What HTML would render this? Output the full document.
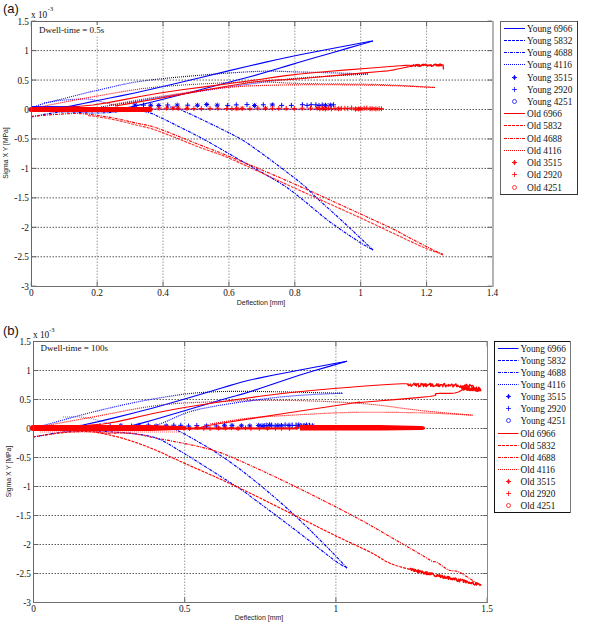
<!DOCTYPE html><html><head><meta charset="utf-8"><style>html,body{margin:0;padding:0;background:#fff;width:600px;height:626px;overflow:hidden}svg{display:block}.tk{font-family:"Liberation Serif",serif;font-size:9.3px;fill:#111}.lg{font-family:"Liberation Serif",serif;font-size:9.3px;fill:#111}.sl{font-family:"Liberation Sans",sans-serif;font-size:7px;fill:#222}.lt{font-family:"Liberation Sans",sans-serif;font-size:13px;fill:#111}</style></head><body>
<svg width="600" height="626" viewBox="0 0 600 626">
<line x1="97.18" y1="21.5" x2="97.18" y2="286.5" stroke="#999" stroke-dasharray="1.5 1.5"/>
<line x1="163.06" y1="21.5" x2="163.06" y2="286.5" stroke="#999" stroke-dasharray="1.5 1.5"/>
<line x1="228.94" y1="21.5" x2="228.94" y2="286.5" stroke="#999" stroke-dasharray="1.5 1.5"/>
<line x1="294.82" y1="21.5" x2="294.82" y2="286.5" stroke="#999" stroke-dasharray="1.5 1.5"/>
<line x1="360.70" y1="21.5" x2="360.70" y2="286.5" stroke="#999" stroke-dasharray="1.5 1.5"/>
<line x1="426.58" y1="21.5" x2="426.58" y2="286.5" stroke="#999" stroke-dasharray="1.5 1.5"/>
<line x1="31.5" y1="50.60" x2="492.5" y2="50.60" stroke="#5a5a5a" stroke-dasharray="1.5 1.5"/>
<line x1="31.5" y1="80.05" x2="492.5" y2="80.05" stroke="#5a5a5a" stroke-dasharray="1.5 1.5"/>
<line x1="31.5" y1="109.50" x2="492.5" y2="109.50" stroke="#5a5a5a" stroke-dasharray="1.5 1.5"/>
<line x1="31.5" y1="138.95" x2="492.5" y2="138.95" stroke="#5a5a5a" stroke-dasharray="1.5 1.5"/>
<line x1="31.5" y1="168.40" x2="492.5" y2="168.40" stroke="#5a5a5a" stroke-dasharray="1.5 1.5"/>
<line x1="31.5" y1="197.85" x2="492.5" y2="197.85" stroke="#5a5a5a" stroke-dasharray="1.5 1.5"/>
<line x1="31.5" y1="227.30" x2="492.5" y2="227.30" stroke="#5a5a5a" stroke-dasharray="1.5 1.5"/>
<line x1="31.5" y1="256.75" x2="492.5" y2="256.75" stroke="#5a5a5a" stroke-dasharray="1.5 1.5"/>
<line x1="31.30" y1="286.5" x2="31.30" y2="281.5" stroke="#666"/>
<line x1="31.30" y1="21.5" x2="31.30" y2="26.5" stroke="#666"/>
<text x="31.30" y="296.0" class="tk" text-anchor="middle">0</text>
<line x1="97.18" y1="286.5" x2="97.18" y2="281.5" stroke="#666"/>
<line x1="97.18" y1="21.5" x2="97.18" y2="26.5" stroke="#666"/>
<text x="97.18" y="296.0" class="tk" text-anchor="middle">0.2</text>
<line x1="163.06" y1="286.5" x2="163.06" y2="281.5" stroke="#666"/>
<line x1="163.06" y1="21.5" x2="163.06" y2="26.5" stroke="#666"/>
<text x="163.06" y="296.0" class="tk" text-anchor="middle">0.4</text>
<line x1="228.94" y1="286.5" x2="228.94" y2="281.5" stroke="#666"/>
<line x1="228.94" y1="21.5" x2="228.94" y2="26.5" stroke="#666"/>
<text x="228.94" y="296.0" class="tk" text-anchor="middle">0.6</text>
<line x1="294.82" y1="286.5" x2="294.82" y2="281.5" stroke="#666"/>
<line x1="294.82" y1="21.5" x2="294.82" y2="26.5" stroke="#666"/>
<text x="294.82" y="296.0" class="tk" text-anchor="middle">0.8</text>
<line x1="360.70" y1="286.5" x2="360.70" y2="281.5" stroke="#666"/>
<line x1="360.70" y1="21.5" x2="360.70" y2="26.5" stroke="#666"/>
<text x="360.70" y="296.0" class="tk" text-anchor="middle">1</text>
<line x1="426.58" y1="286.5" x2="426.58" y2="281.5" stroke="#666"/>
<line x1="426.58" y1="21.5" x2="426.58" y2="26.5" stroke="#666"/>
<text x="426.58" y="296.0" class="tk" text-anchor="middle">1.2</text>
<line x1="492.46" y1="286.5" x2="492.46" y2="281.5" stroke="#666"/>
<line x1="492.46" y1="21.5" x2="492.46" y2="26.5" stroke="#666"/>
<text x="492.46" y="296.0" class="tk" text-anchor="middle">1.4</text>
<line x1="31.5" y1="21.15" x2="36.5" y2="21.15" stroke="#666"/>
<line x1="492.5" y1="21.15" x2="487.5" y2="21.15" stroke="#666"/>
<text x="29.0" y="24.65" class="tk" text-anchor="end">1.5</text>
<line x1="31.5" y1="50.60" x2="36.5" y2="50.60" stroke="#666"/>
<line x1="492.5" y1="50.60" x2="487.5" y2="50.60" stroke="#666"/>
<text x="29.0" y="54.10" class="tk" text-anchor="end">1</text>
<line x1="31.5" y1="80.05" x2="36.5" y2="80.05" stroke="#666"/>
<line x1="492.5" y1="80.05" x2="487.5" y2="80.05" stroke="#666"/>
<text x="29.0" y="83.55" class="tk" text-anchor="end">0.5</text>
<line x1="31.5" y1="109.50" x2="36.5" y2="109.50" stroke="#666"/>
<line x1="492.5" y1="109.50" x2="487.5" y2="109.50" stroke="#666"/>
<text x="29.0" y="113.00" class="tk" text-anchor="end">0</text>
<line x1="31.5" y1="138.95" x2="36.5" y2="138.95" stroke="#666"/>
<line x1="492.5" y1="138.95" x2="487.5" y2="138.95" stroke="#666"/>
<text x="29.0" y="142.45" class="tk" text-anchor="end">-0.5</text>
<line x1="31.5" y1="168.40" x2="36.5" y2="168.40" stroke="#666"/>
<line x1="492.5" y1="168.40" x2="487.5" y2="168.40" stroke="#666"/>
<text x="29.0" y="171.90" class="tk" text-anchor="end">-1</text>
<line x1="31.5" y1="197.85" x2="36.5" y2="197.85" stroke="#666"/>
<line x1="492.5" y1="197.85" x2="487.5" y2="197.85" stroke="#666"/>
<text x="29.0" y="201.35" class="tk" text-anchor="end">-1.5</text>
<line x1="31.5" y1="227.30" x2="36.5" y2="227.30" stroke="#666"/>
<line x1="492.5" y1="227.30" x2="487.5" y2="227.30" stroke="#666"/>
<text x="29.0" y="230.80" class="tk" text-anchor="end">-2</text>
<line x1="31.5" y1="256.75" x2="36.5" y2="256.75" stroke="#666"/>
<line x1="492.5" y1="256.75" x2="487.5" y2="256.75" stroke="#666"/>
<text x="29.0" y="260.25" class="tk" text-anchor="end">-2.5</text>
<line x1="31.5" y1="286.20" x2="36.5" y2="286.20" stroke="#666"/>
<line x1="492.5" y1="286.20" x2="487.5" y2="286.20" stroke="#666"/>
<text x="29.0" y="289.70" class="tk" text-anchor="end">-3</text>
<polyline points="31.0,109.5 35.5,109.4 42.0,109.2 49.0,108.9 55.0,108.5 59.3,108.1 62.7,107.6 66.3,106.9 71.0,106.0 76.8,104.9 83.4,103.5 91.0,101.9 100.0,100.0 109.9,98.0 120.6,95.9 133.5,93.2 150.0,89.5 172.7,84.2 200.0,77.7 227.3,71.1 250.0,65.8 265.8,62.1 277.5,59.5 288.0,57.2 300.0,54.7 315.4,51.7 332.3,48.5 348.1,45.5 360.0,43.3 366.9,42.0 370.2,41.4 371.8,41.2 373.0,41.0" fill="none" stroke="#0000ff" stroke-width="1.15" stroke-linejoin="round"/>
<polyline points="373.0,41.0 371.8,41.3 370.2,41.8 366.9,42.7 360.0,44.7 348.1,48.1 332.3,52.7 315.4,57.5 300.0,62.0 288.0,65.6 277.5,68.8 265.8,72.3 250.0,76.7 226.8,82.8 198.4,90.2 170.9,97.2 150.0,102.5 137.9,105.4 131.2,106.9 127.7,107.5 125.0,108.0" fill="none" stroke="#0000ff" stroke-width="1.15" stroke-linejoin="round"/>
<polyline points="31.0,117.0 36.4,116.0 44.2,114.4 52.9,112.9 61.0,112.0 68.5,111.9 76.1,112.2 83.4,112.7 90.0,113.0 95.5,113.0 100.2,113.0 104.9,112.8 110.0,112.5 116.1,111.9 122.8,111.0 129.3,110.3 135.0,110.0 139.6,110.3 143.4,111.1 146.8,112.0 150.0,113.0 152.1,113.6 153.4,114.1 155.5,115.1 160.0,117.3 167.9,121.1 178.1,126.2 189.3,131.7 200.0,137.3 210.0,142.8 220.0,148.5 230.0,154.2 240.0,160.0 250.5,165.9 261.2,172.0 271.4,177.8 280.0,183.0 286.2,187.0 290.6,190.2 294.8,193.4 300.0,197.5 306.8,203.0 314.4,209.4 322.3,216.0 330.0,222.0 337.7,227.6 345.7,233.0 353.1,237.9 359.3,242.0 364.1,245.0 368.0,247.2 370.9,248.8 373.0,250.0" fill="none" stroke="#0000ff" stroke-width="1.15" stroke-dasharray="3 1 1 1" stroke-linejoin="round"/>
<polyline points="373.0,250.0 367.6,244.9 359.8,237.5 351.2,229.4 343.3,222.0 336.2,215.5 329.2,209.2 322.6,203.3 316.7,198.0 312.5,193.9 309.6,190.8 306.1,187.4 300.0,182.3 289.9,174.4 277.1,164.7 264.0,155.0 253.3,147.3 246.4,142.5 241.8,139.6 237.1,137.0 230.0,133.3 218.8,127.7 205.0,121.0 191.5,114.6 181.0,110.0 174.3,107.8 169.9,107.0 167.1,107.1 165.0,107.0" fill="none" stroke="#0000ff" stroke-width="1.15" stroke-dasharray="3 1 1 1" stroke-linejoin="round"/>
<polyline points="31.0,109.0 32.1,108.3 33.7,107.3 35.9,106.2 39.0,105.0 42.9,103.8 47.5,102.6 53.1,101.2 60.0,99.5 68.4,97.4 78.2,94.9 88.9,92.2 100.0,89.7 110.6,87.2 121.2,84.8 133.8,82.3 150.0,80.0 172.7,77.6 200.0,75.2 227.3,73.1 250.0,71.7 265.6,71.1 277.0,71.2 287.4,71.6 300.0,72.0 317.3,72.4 337.1,73.0 355.4,73.6 368.0,74.0" fill="none" stroke="#0000ff" stroke-width="1.15" stroke-dasharray="1 1" stroke-linejoin="round"/>
<polyline points="368.0,74.0 355.4,74.7 337.1,75.6 317.3,76.8 300.0,78.0 286.8,79.2 275.4,80.6 263.8,82.1 250.0,84.0 232.5,86.4 212.8,89.3 192.9,92.3 175.0,95.0 159.0,97.5 144.1,100.0 130.8,102.2 120.0,104.0 112.1,105.2 106.6,106.1 102.8,106.6 100.0,107.0" fill="none" stroke="#0000ff" stroke-width="1.15" stroke-dasharray="1 1" stroke-linejoin="round"/>
<polyline points="44.0,103.0 46.7,102.5 50.6,101.8 55.2,101.1 60.0,100.5 65.3,100.0 71.2,99.5 77.1,99.2 82.0,99.0 85.4,99.0 87.9,99.0 90.4,99.3 94.0,100.0 99.7,101.3 106.8,103.1 113.4,104.8 118.0,106.0" fill="none" stroke="#0000ff" stroke-width="1.1" stroke-dasharray="1 1" stroke-opacity="0.9" stroke-linejoin="round"/>
<polyline points="31.0,106.6 80.0,106.6" fill="none" stroke="#0000ff" stroke-width="1" stroke-linejoin="round"/>
<polyline points="150.0,109.3 338.0,109.3" fill="none" stroke="#0000ff" stroke-width="0.8" stroke-opacity="0.6" stroke-linejoin="round"/>
<path d="M132.5,105.0H137.5M135.0,102.5V107.5M133.2,103.3L136.8,106.8M133.2,106.8L136.8,103.3" stroke="#0000ff" stroke-width="1" fill="none"/>
<path d="M141.0,105.1H146.0M143.5,102.6V107.6" stroke="#0000ff" stroke-width="1" fill="none"/>
<path d="M148.2,105.3H153.2M150.7,102.8V107.8M149.0,103.6L152.5,107.1M149.0,107.1L152.5,103.6" stroke="#0000ff" stroke-width="1" fill="none"/>
<path d="M156.3,105.5H161.3M158.8,103.0V108.0M157.0,103.7L160.5,107.2M157.0,107.2L160.5,103.7" stroke="#0000ff" stroke-width="1" fill="none"/>
<path d="M165.2,105.0H170.2M167.7,102.5V107.5" stroke="#0000ff" stroke-width="1" fill="none"/>
<path d="M174.7,105.1H179.7M177.2,102.6V107.6M175.5,103.4L179.0,106.9M175.5,106.9L179.0,103.4" stroke="#0000ff" stroke-width="1" fill="none"/>
<path d="M185.2,105.2H190.2M187.7,102.7V107.7" stroke="#0000ff" stroke-width="1" fill="none"/>
<path d="M194.9,105.3H199.9M197.4,102.8V107.8M195.6,103.5L199.1,107.0M195.6,107.0L199.1,103.5" stroke="#0000ff" stroke-width="1" fill="none"/>
<path d="M204.2,104.5H209.2M206.7,102.0V107.0M205.0,102.8L208.5,106.3M205.0,106.3L208.5,102.8" stroke="#0000ff" stroke-width="1" fill="none"/>
<path d="M214.7,105.2H219.7M217.2,102.7V107.7M215.5,103.5L219.0,107.0M215.5,107.0L219.0,103.5" stroke="#0000ff" stroke-width="1" fill="none"/>
<path d="M225.2,105.4H230.2M227.7,102.9V107.9" stroke="#0000ff" stroke-width="1" fill="none"/>
<path d="M233.8,104.9H238.8M236.3,102.4V107.4" stroke="#0000ff" stroke-width="1" fill="none"/>
<path d="M244.5,104.6H249.5M247.0,102.1V107.1" stroke="#0000ff" stroke-width="1" fill="none"/>
<path d="M252.1,105.5H257.1M254.6,103.0V108.0M252.8,103.7L256.3,107.2M252.8,107.2L256.3,103.7" stroke="#0000ff" stroke-width="1" fill="none"/>
<path d="M260.8,104.8H265.8M263.3,102.3V107.3" stroke="#0000ff" stroke-width="1" fill="none"/>
<path d="M269.9,104.9H274.9M272.4,102.4V107.4M270.6,103.1L274.1,106.6M270.6,106.6L274.1,103.1" stroke="#0000ff" stroke-width="1" fill="none"/>
<path d="M279.2,105.4H284.2M281.7,102.9V107.9" stroke="#0000ff" stroke-width="1" fill="none"/>
<path d="M288.9,105.4H293.9M291.4,102.9V107.9" stroke="#0000ff" stroke-width="1" fill="none"/>
<path d="M299.9,104.7H304.9M302.4,102.2V107.2" stroke="#0000ff" stroke-width="1" fill="none"/>
<path d="M304.6,105.4H309.6M307.1,102.9V107.9" stroke="#0000ff" stroke-width="1" fill="none"/>
<path d="M308.7,104.7H313.7M311.2,102.2V107.2" stroke="#0000ff" stroke-width="1" fill="none"/>
<path d="M313.4,104.8H318.4M315.9,102.3V107.3" stroke="#0000ff" stroke-width="1" fill="none"/>
<path d="M316.5,105.5H321.5M319.0,103.0V108.0" stroke="#0000ff" stroke-width="1" fill="none"/>
<path d="M319.7,104.9H324.7M322.2,102.4V107.4" stroke="#0000ff" stroke-width="1" fill="none"/>
<path d="M323.0,105.3H328.0M325.5,102.8V107.8M323.8,103.5L327.3,107.0M323.8,107.0L327.3,103.5" stroke="#0000ff" stroke-width="1" fill="none"/>
<path d="M327.8,105.1H332.8M330.3,102.6V107.6M328.5,103.4L332.0,106.9M328.5,106.9L332.0,103.4" stroke="#0000ff" stroke-width="1" fill="none"/>
<path d="M330.9,104.8H335.9M333.4,102.3V107.3" stroke="#0000ff" stroke-width="1" fill="none"/>
<polyline points="41.0,108.0 50.0,107.7 62.8,107.2 77.7,106.5 93.0,105.0 108.2,102.6 124.1,99.6 141.3,96.2 160.0,93.0 181.8,89.8 206.1,86.6 229.8,83.5 250.0,80.8 264.4,78.7 275.0,77.1 285.6,75.6 300.0,74.0 321.3,72.0 346.9,69.9 371.5,68.0 390.0,66.5 400.4,65.7 405.6,65.4 408.0,65.3 410.0,65.2" fill="none" stroke="#ff0000" stroke-width="1.15" stroke-linejoin="round"/>
<polyline points="410.0,65.5 410.6,65.7 411.2,66.3 411.8,65.5 412.4,65.6 413.0,65.7 413.6,65.0 414.2,65.5 414.8,65.7 415.4,66.0 416.0,64.7 416.6,65.1 417.2,64.7 417.8,66.0 418.4,65.8 419.0,64.6 419.6,66.3 420.2,66.2 420.8,65.7 421.4,65.6 422.0,64.7 422.6,64.5 423.2,65.4 423.8,64.5 424.4,64.8 425.0,64.8 425.6,64.4 426.2,65.2 426.8,65.2 427.4,65.9 428.0,65.3 428.6,65.5 429.2,65.2 429.8,65.5 430.4,65.1 431.0,64.8 431.6,66.1 432.2,66.0 432.8,65.8 433.4,65.5 434.0,64.8 434.6,64.6 435.2,64.7 435.8,64.3 436.4,65.6 437.0,64.9 437.6,65.7 438.2,64.8 438.8,65.8 439.4,65.6 440.0,64.1 440.6,64.5 441.2,65.7 441.8,64.9 442.4,65.8" fill="none" stroke="#ff0000" stroke-width="1.7" stroke-linejoin="round"/>
<polyline points="443.0,64.3 443.5,69.5" fill="none" stroke="#ff0000" stroke-width="1.3" stroke-linejoin="round"/>
<polyline points="413.0,65.8 411.7,66.1 409.9,66.5 407.7,66.9 405.0,67.5 401.6,68.2 397.6,69.0 393.6,69.9 390.0,70.5 388.8,70.7 389.1,70.7 387.3,70.9 380.0,71.5 364.2,72.9 342.5,74.9 319.5,77.0 300.0,78.7 286.6,79.6 276.2,80.0 265.3,80.7 250.0,82.5 227.0,86.2 199.1,91.1 171.6,96.1 150.0,100.0 135.9,102.4 126.2,104.1 119.8,105.2 115.0,106.0" fill="none" stroke="#ff0000" stroke-width="1.15" stroke-linejoin="round"/>
<polyline points="88.0,115.6 89.6,115.8 91.8,116.0 94.6,116.3 98.0,116.8 102.1,117.5 106.9,118.3 112.0,119.3 117.0,120.3 121.9,121.4 126.9,122.7 132.0,124.0 137.0,125.3 141.5,126.3 145.6,127.1 150.4,128.4 157.0,130.5 166.4,134.1 177.9,138.6 189.6,143.4 200.0,147.5 207.7,150.3 213.9,152.3 220.7,154.7 230.0,158.5 242.6,164.1 257.5,170.9 273.5,178.4 290.0,186.0 307.1,193.7 325.2,201.9 343.3,210.1 360.7,218.0 377.9,226.0 395.2,234.2 410.9,241.6 423.3,247.3 431.7,250.7 437.1,252.5 440.5,253.3 443.0,254.0" fill="none" stroke="#ff0000" stroke-width="1.15" stroke-dasharray="3 1" stroke-opacity="0.8" stroke-linejoin="round"/>
<polyline points="31.0,116.3 35.3,116.0 41.6,115.5 48.5,114.9 55.0,114.5 60.9,114.1 66.8,113.8 72.5,113.5 78.0,113.5 83.2,113.8 88.2,114.2 93.1,114.8 98.0,115.5 102.8,116.2 107.5,116.9 112.2,117.8 117.0,118.7 121.9,119.7 126.9,120.9 132.0,122.1 137.0,123.3 141.5,124.2 145.6,124.9 150.4,126.0 157.0,128.0 166.4,131.5 177.9,136.1 189.6,140.8 200.0,145.0 207.7,148.0 213.9,150.3 220.7,152.9 230.0,156.7 242.6,161.9 257.5,168.1 273.5,174.9 290.0,182.0 307.8,189.9 327.0,198.6 345.3,207.0 360.7,214.0 372.4,219.4 381.7,223.7 389.0,227.1 395.0,230.0 398.5,231.7 399.6,232.4 400.8,233.2 404.7,235.3 413.2,239.7 424.5,245.5 435.4,251.1 443.0,255.0" fill="none" stroke="#ff0000" stroke-width="1.15" stroke-dasharray="3 1 1 1" stroke-linejoin="round"/>
<polyline points="31.0,109.0 32.7,108.6 35.2,108.0 38.2,107.3 41.7,106.6 45.2,105.9 49.0,105.1 53.7,104.2 60.0,103.0 68.0,101.4 77.4,99.6 88.1,97.6 100.0,95.5 112.9,93.3 126.9,90.9 142.4,88.6 160.0,86.7 181.3,85.1 205.6,83.7 229.6,82.6 250.0,82.0 264.6,82.0 275.6,82.4 286.3,83.0 300.0,83.5 318.5,83.7 339.7,83.9 361.1,84.1 380.0,84.5 396.8,85.2 412.5,86.1 425.7,86.9 435.0,87.5" fill="none" stroke="#ff0000" stroke-width="1.15" stroke-dasharray="1 1" stroke-linejoin="round"/>
<polyline points="435.0,87.5 425.7,87.1 412.5,86.4 396.8,85.8 380.0,85.3 361.5,85.0 340.9,84.8 319.9,84.7 300.0,84.8 281.8,85.0 264.4,85.4 247.3,86.0 230.0,87.2 212.0,89.1 193.8,91.5 176.1,94.1 160.0,96.5 144.9,98.9 130.6,101.3 118.5,103.5 110.0,105.0" fill="none" stroke="#ff0000" stroke-width="1.15" stroke-dasharray="1 1" stroke-linejoin="round"/>
<polyline points="150.0,109.0 384.0,109.0" fill="none" stroke="#ff0000" stroke-width="1" stroke-opacity="0.5" stroke-linejoin="round"/>
<path d="M147.5,108.5H152.5M150.0,106.0V111.0M148.2,106.8L151.8,110.3M148.2,110.3L151.8,106.8" stroke="#ff0000" stroke-width="1" fill="none"/>
<path d="M156.5,108.1H161.5M159.0,105.6V110.6" stroke="#ff0000" stroke-width="1" fill="none"/>
<path d="M163.9,108.2H168.9M166.4,105.7V110.7" stroke="#ff0000" stroke-width="1" fill="none"/>
<path d="M170.5,108.2H175.5M173.0,105.7V110.7M171.3,106.4L174.8,109.9M171.3,109.9L174.8,106.4" stroke="#ff0000" stroke-width="1" fill="none"/>
<path d="M175.7,108.3H180.7M178.2,105.8V110.8M176.4,106.6L179.9,110.1M176.4,110.1L179.9,106.6" stroke="#ff0000" stroke-width="1" fill="none"/>
<path d="M184.5,108.4H189.5M187.0,105.9V110.9M185.3,106.6L188.8,110.1M185.3,110.1L188.8,106.6" stroke="#ff0000" stroke-width="1" fill="none"/>
<path d="M191.4,108.6H196.4M193.9,106.1V111.1" stroke="#ff0000" stroke-width="1" fill="none"/>
<path d="M198.8,108.6H203.8M201.3,106.1V111.1" stroke="#ff0000" stroke-width="1" fill="none"/>
<path d="M207.5,108.4H212.5M210.0,105.9V110.9" stroke="#ff0000" stroke-width="1" fill="none"/>
<path d="M215.4,108.3H220.4M217.9,105.8V110.8" stroke="#ff0000" stroke-width="1" fill="none"/>
<path d="M224.3,108.5H229.3M226.8,106.0V111.0" stroke="#ff0000" stroke-width="1" fill="none"/>
<path d="M229.4,108.6H234.4M231.9,106.1V111.1" stroke="#ff0000" stroke-width="1" fill="none"/>
<path d="M234.4,108.6H239.4M236.9,106.1V111.1M235.2,106.9L238.7,110.4M235.2,110.4L238.7,106.9" stroke="#ff0000" stroke-width="1" fill="none"/>
<path d="M239.7,108.5H244.7M242.2,106.0V111.0M240.4,106.7L243.9,110.2M240.4,110.2L243.9,106.7" stroke="#ff0000" stroke-width="1" fill="none"/>
<path d="M247.4,108.7H252.4M249.9,106.2V111.2" stroke="#ff0000" stroke-width="1" fill="none"/>
<path d="M255.3,108.1H260.3M257.8,105.6V110.6" stroke="#ff0000" stroke-width="1" fill="none"/>
<path d="M263.0,108.3H268.0M265.5,105.8V110.8M263.8,106.5L267.3,110.0M263.8,110.0L267.3,106.5" stroke="#ff0000" stroke-width="1" fill="none"/>
<path d="M269.9,108.3H274.9M272.4,105.8V110.8" stroke="#ff0000" stroke-width="1" fill="none"/>
<path d="M276.3,108.4H281.3M278.8,105.9V110.9" stroke="#ff0000" stroke-width="1" fill="none"/>
<path d="M283.7,108.4H288.7M286.2,105.9V110.9" stroke="#ff0000" stroke-width="1" fill="none"/>
<path d="M291.8,108.6H296.8M294.3,106.1V111.1" stroke="#ff0000" stroke-width="1" fill="none"/>
<path d="M299.7,108.2H304.7M302.2,105.7V110.7" stroke="#ff0000" stroke-width="1" fill="none"/>
<path d="M308.0,108.2H313.0M310.5,105.7V110.7" stroke="#ff0000" stroke-width="1" fill="none"/>
<path d="M314.7,108.1H319.7M317.2,105.6V110.6M315.4,106.4L318.9,109.9M315.4,109.9L318.9,106.4" stroke="#ff0000" stroke-width="1" fill="none"/>
<path d="M317.3,108.8H322.3M319.8,106.3V111.3" stroke="#ff0000" stroke-width="1" fill="none"/>
<path d="M320.2,108.2H325.2M322.7,105.7V110.7M321.0,106.4L324.5,109.9M321.0,109.9L324.5,106.4" stroke="#ff0000" stroke-width="1" fill="none"/>
<path d="M322.9,108.9H327.9M325.4,106.4V111.4M323.6,107.1L327.1,110.6M323.6,110.6L327.1,107.1" stroke="#ff0000" stroke-width="1" fill="none"/>
<path d="M325.8,108.1H330.8M328.3,105.6V110.6" stroke="#ff0000" stroke-width="1" fill="none"/>
<path d="M328.9,108.8H333.9M331.4,106.3V111.3" stroke="#ff0000" stroke-width="1" fill="none"/>
<path d="M332.5,108.3H337.5M335.0,105.8V110.8" stroke="#ff0000" stroke-width="1" fill="none"/>
<path d="M336.1,108.8H341.1M338.6,106.3V111.3M336.9,107.1L340.4,110.6M336.9,110.6L340.4,107.1" stroke="#ff0000" stroke-width="1" fill="none"/>
<path d="M338.8,108.3H343.8M341.3,105.8V110.8" stroke="#ff0000" stroke-width="1" fill="none"/>
<path d="M342.4,108.3H347.4M344.9,105.8V110.8" stroke="#ff0000" stroke-width="1" fill="none"/>
<path d="M345.3,108.4H350.3M347.8,105.9V110.9" stroke="#ff0000" stroke-width="1" fill="none"/>
<path d="M349.1,108.0H354.1M351.6,105.5V110.5" stroke="#ff0000" stroke-width="1" fill="none"/>
<path d="M353.0,109.0H358.0M355.5,106.5V111.5M353.7,107.2L357.2,110.7M353.7,110.7L357.2,107.2" stroke="#ff0000" stroke-width="1" fill="none"/>
<path d="M355.9,108.9H360.9M358.4,106.4V111.4M356.6,107.2L360.1,110.7M356.6,110.7L360.1,107.2" stroke="#ff0000" stroke-width="1" fill="none"/>
<path d="M358.3,108.8H363.3M360.8,106.3V111.3M359.0,107.1L362.5,110.6M359.0,110.6L362.5,107.1" stroke="#ff0000" stroke-width="1" fill="none"/>
<path d="M361.6,108.3H366.6M364.1,105.8V110.8" stroke="#ff0000" stroke-width="1" fill="none"/>
<path d="M364.3,108.1H369.3M366.8,105.6V110.6" stroke="#ff0000" stroke-width="1" fill="none"/>
<path d="M367.5,108.8H372.5M370.0,106.3V111.3" stroke="#ff0000" stroke-width="1" fill="none"/>
<path d="M369.6,108.7H374.6M372.1,106.2V111.2M370.3,106.9L373.8,110.4M370.3,110.4L373.8,106.9" stroke="#ff0000" stroke-width="1" fill="none"/>
<path d="M373.4,108.9H378.4M375.9,106.4V111.4M374.2,107.1L377.7,110.6M374.2,110.6L377.7,107.1" stroke="#ff0000" stroke-width="1" fill="none"/>
<path d="M376.6,108.7H381.6M379.1,106.2V111.2" stroke="#ff0000" stroke-width="1" fill="none"/>
<path d="M378.9,108.7H383.9M381.4,106.2V111.2" stroke="#ff0000" stroke-width="1" fill="none"/>
<rect x="28.5" y="107" width="124" height="5" rx="2.5" fill="#ff0000"/>
<line x1="31" y1="21.5" x2="493" y2="21.5" stroke="#666"/>
<line x1="31.5" y1="21" x2="31.5" y2="287" stroke="#666"/>
<line x1="31" y1="286.5" x2="493" y2="286.5" stroke="#707070"/>
<rect x="492" y="21" width="2" height="266" fill="#b4b4b4"/>
<text x="3" y="13" class="lt">(a)</text>
<text x="31" y="18" class="tk">x 10</text><text x="47.8" y="11" class="tk" style="font-size:6.5px">-3</text>
<rect x="37" y="25" width="70" height="11.5" fill="#fff"/><text x="39" y="33" class="tk" style="font-size:9px">Dwell-time = 0.5s</text>
<text x="261" y="304.5" class="sl" text-anchor="middle">Deflection [mm]</text>
<text transform="translate(8,153) rotate(-90)" class="sl" style="font-size:6.8px" text-anchor="middle">Sigma X Y [MPa]</text>
<line x1="184.70" y1="341.5" x2="184.70" y2="602.5" stroke="#999" stroke-dasharray="1.5 1.5"/>
<line x1="335.90" y1="341.5" x2="335.90" y2="602.5" stroke="#999" stroke-dasharray="1.5 1.5"/>
<line x1="33.5" y1="370.50" x2="487.5" y2="370.50" stroke="#5a5a5a" stroke-dasharray="1.5 1.5"/>
<line x1="33.5" y1="399.50" x2="487.5" y2="399.50" stroke="#5a5a5a" stroke-dasharray="1.5 1.5"/>
<line x1="33.5" y1="428.50" x2="487.5" y2="428.50" stroke="#5a5a5a" stroke-dasharray="1.5 1.5"/>
<line x1="33.5" y1="457.50" x2="487.5" y2="457.50" stroke="#5a5a5a" stroke-dasharray="1.5 1.5"/>
<line x1="33.5" y1="486.50" x2="487.5" y2="486.50" stroke="#5a5a5a" stroke-dasharray="1.5 1.5"/>
<line x1="33.5" y1="515.50" x2="487.5" y2="515.50" stroke="#5a5a5a" stroke-dasharray="1.5 1.5"/>
<line x1="33.5" y1="544.50" x2="487.5" y2="544.50" stroke="#5a5a5a" stroke-dasharray="1.5 1.5"/>
<line x1="33.5" y1="573.50" x2="487.5" y2="573.50" stroke="#5a5a5a" stroke-dasharray="1.5 1.5"/>
<line x1="33.50" y1="602.5" x2="33.50" y2="597.5" stroke="#666"/>
<line x1="33.50" y1="341.5" x2="33.50" y2="346.5" stroke="#666"/>
<text x="33.50" y="612.0" class="tk" text-anchor="middle">0</text>
<line x1="184.70" y1="602.5" x2="184.70" y2="597.5" stroke="#666"/>
<line x1="184.70" y1="341.5" x2="184.70" y2="346.5" stroke="#666"/>
<text x="184.70" y="612.0" class="tk" text-anchor="middle">0.5</text>
<line x1="335.90" y1="602.5" x2="335.90" y2="597.5" stroke="#666"/>
<line x1="335.90" y1="341.5" x2="335.90" y2="346.5" stroke="#666"/>
<text x="335.90" y="612.0" class="tk" text-anchor="middle">1</text>
<line x1="487.10" y1="602.5" x2="487.10" y2="597.5" stroke="#666"/>
<line x1="487.10" y1="341.5" x2="487.10" y2="346.5" stroke="#666"/>
<text x="487.10" y="612.0" class="tk" text-anchor="middle">1.5</text>
<line x1="33.5" y1="341.50" x2="38.5" y2="341.50" stroke="#666"/>
<line x1="487.5" y1="341.50" x2="482.5" y2="341.50" stroke="#666"/>
<text x="31.0" y="345.00" class="tk" text-anchor="end">1.5</text>
<line x1="33.5" y1="370.50" x2="38.5" y2="370.50" stroke="#666"/>
<line x1="487.5" y1="370.50" x2="482.5" y2="370.50" stroke="#666"/>
<text x="31.0" y="374.00" class="tk" text-anchor="end">1</text>
<line x1="33.5" y1="399.50" x2="38.5" y2="399.50" stroke="#666"/>
<line x1="487.5" y1="399.50" x2="482.5" y2="399.50" stroke="#666"/>
<text x="31.0" y="403.00" class="tk" text-anchor="end">0.5</text>
<line x1="33.5" y1="428.50" x2="38.5" y2="428.50" stroke="#666"/>
<line x1="487.5" y1="428.50" x2="482.5" y2="428.50" stroke="#666"/>
<text x="31.0" y="432.00" class="tk" text-anchor="end">0</text>
<line x1="33.5" y1="457.50" x2="38.5" y2="457.50" stroke="#666"/>
<line x1="487.5" y1="457.50" x2="482.5" y2="457.50" stroke="#666"/>
<text x="31.0" y="461.00" class="tk" text-anchor="end">-0.5</text>
<line x1="33.5" y1="486.50" x2="38.5" y2="486.50" stroke="#666"/>
<line x1="487.5" y1="486.50" x2="482.5" y2="486.50" stroke="#666"/>
<text x="31.0" y="490.00" class="tk" text-anchor="end">-1</text>
<line x1="33.5" y1="515.50" x2="38.5" y2="515.50" stroke="#666"/>
<line x1="487.5" y1="515.50" x2="482.5" y2="515.50" stroke="#666"/>
<text x="31.0" y="519.00" class="tk" text-anchor="end">-1.5</text>
<line x1="33.5" y1="544.50" x2="38.5" y2="544.50" stroke="#666"/>
<line x1="487.5" y1="544.50" x2="482.5" y2="544.50" stroke="#666"/>
<text x="31.0" y="548.00" class="tk" text-anchor="end">-2</text>
<line x1="33.5" y1="573.50" x2="38.5" y2="573.50" stroke="#666"/>
<line x1="487.5" y1="573.50" x2="482.5" y2="573.50" stroke="#666"/>
<text x="31.0" y="577.00" class="tk" text-anchor="end">-2.5</text>
<line x1="33.5" y1="602.50" x2="38.5" y2="602.50" stroke="#666"/>
<line x1="487.5" y1="602.50" x2="482.5" y2="602.50" stroke="#666"/>
<text x="31.0" y="606.00" class="tk" text-anchor="end">-3</text>
<polyline points="33.0,428.0 37.9,427.8 45.1,427.6 52.9,427.3 60.0,427.0 64.9,426.9 68.8,427.0 74.0,426.6 83.0,425.0 97.3,421.9 115.2,417.6 134.6,412.8 153.0,408.0 170.8,403.0 189.0,397.7 205.9,392.7 220.0,388.5 229.6,385.6 236.1,383.7 242.0,382.0 250.0,380.0 261.2,377.6 273.9,375.0 287.2,372.5 300.0,370.0 313.1,367.5 326.6,365.0 338.6,362.8 347.0,361.2" fill="none" stroke="#0000ff" stroke-width="1.15" stroke-linejoin="round"/>
<polyline points="347.0,361.2 338.6,363.6 326.6,367.1 313.1,371.0 300.0,375.0 287.2,379.2 273.9,383.7 261.2,388.0 250.0,391.7 242.0,394.1 236.1,395.8 229.6,397.5 220.0,400.2 204.8,404.7 186.1,410.3 167.5,415.8 153.0,420.0 143.6,422.6 137.3,424.2 133.1,425.2 130.0,426.0" fill="none" stroke="#0000ff" stroke-width="1.15" stroke-linejoin="round"/>
<polyline points="33.0,437.0 40.2,435.8 50.5,433.9 62.1,432.1 73.0,431.0 83.0,430.7 93.0,430.8 103.0,431.3 113.0,432.0 123.2,432.7 133.6,433.6 143.7,434.9 153.0,437.0 160.7,439.8 167.3,443.2 174.3,447.5 183.3,453.0 196.0,460.8 211.1,470.3 225.6,479.6 236.7,486.7 242.0,490.1 243.7,491.2 245.2,492.4 250.0,496.0 259.8,503.3 272.6,512.8 286.0,522.9 298.0,532.0 308.4,540.0 318.2,547.8 326.9,554.6 334.0,560.0 339.2,563.6 342.8,565.8 345.2,567.0 347.0,568.0" fill="none" stroke="#0000ff" stroke-width="1.15" stroke-dasharray="3 1 1 1" stroke-linejoin="round"/>
<polyline points="347.0,568.0 343.6,564.4 338.8,559.2 332.8,552.9 326.0,546.0 318.1,538.1 309.2,529.2 299.6,520.0 290.0,511.0 280.2,502.2 269.9,493.4 259.7,484.8 250.0,477.0 241.0,470.0 232.5,463.7 224.0,457.8 215.3,452.0 205.6,446.0 195.3,440.0 185.7,434.6 178.0,430.7 172.7,428.7 169.2,428.0 166.8,428.0 165.0,428.0" fill="none" stroke="#0000ff" stroke-width="1.15" stroke-dasharray="3 1 1 1" stroke-linejoin="round"/>
<polyline points="33.0,428.0 34.3,427.7 36.0,427.3 39.2,426.5 45.0,425.0 54.2,422.5 66.0,419.1 79.3,415.5 93.0,412.0 107.0,408.6 121.8,405.2 137.2,401.9 153.0,399.0 168.0,396.5 182.6,394.3 199.2,392.6 220.0,391.5 249.6,391.3 285.4,391.9 319.2,392.7 342.5,393.2" fill="none" stroke="#0000ff" stroke-width="1.15" stroke-dasharray="1 1" stroke-linejoin="round"/>
<polyline points="342.5,393.2 331.7,393.7 316.2,394.3 298.3,395.4 280.0,397.0 260.2,399.4 238.3,402.4 217.2,405.7 200.0,409.0 187.6,412.3 178.4,415.9 171.3,419.2 165.0,422.0 159.5,424.1 155.3,425.8 152.2,427.1 150.0,428.0" fill="none" stroke="#0000ff" stroke-width="1.15" stroke-dasharray="1 1" stroke-linejoin="round"/>
<polyline points="63.0,417.0 66.1,417.0 70.7,416.9 75.6,416.9 80.0,417.0 83.4,417.3 86.5,417.7 89.6,418.2 93.0,419.0 97.4,420.2 102.3,421.6 106.9,423.0 110.0,424.0" fill="none" stroke="#0000ff" stroke-width="1" stroke-dasharray="1 1" stroke-opacity="0.6" stroke-linejoin="round"/>
<polyline points="185.0,428.3 314.0,428.3" fill="none" stroke="#0000ff" stroke-width="0.8" stroke-opacity="0.6" stroke-linejoin="round"/>
<path d="M97.5,425.8H102.5M100.0,423.3V428.3" stroke="#0000ff" stroke-width="1" fill="none"/>
<path d="M107.7,425.8H112.7M110.2,423.3V428.3" stroke="#0000ff" stroke-width="1" fill="none"/>
<path d="M118.4,425.6H123.4M120.9,423.1V428.1M119.1,423.8L122.6,427.3M119.1,427.3L122.6,423.8" stroke="#0000ff" stroke-width="1" fill="none"/>
<path d="M129.1,426.0H134.1M131.6,423.5V428.5" stroke="#0000ff" stroke-width="1" fill="none"/>
<path d="M136.6,425.3H141.6M139.1,422.8V427.8M137.3,423.6L140.8,427.1M137.3,427.1L140.8,423.6" stroke="#0000ff" stroke-width="1" fill="none"/>
<path d="M145.8,425.1H150.8M148.3,422.6V427.6" stroke="#0000ff" stroke-width="1" fill="none"/>
<path d="M153.6,426.0H158.6M156.1,423.5V428.5M154.4,424.3L157.9,427.8M154.4,427.8L157.9,424.3" stroke="#0000ff" stroke-width="1" fill="none"/>
<path d="M163.7,425.9H168.7M166.2,423.4V428.4M164.5,424.1L168.0,427.6M164.5,427.6L168.0,424.1" stroke="#0000ff" stroke-width="1" fill="none"/>
<path d="M171.3,425.2H176.3M173.8,422.7V427.7" stroke="#0000ff" stroke-width="1" fill="none"/>
<path d="M178.3,425.3H183.3M180.8,422.8V427.8" stroke="#0000ff" stroke-width="1" fill="none"/>
<path d="M186.1,426.0H191.1M188.6,423.5V428.5" stroke="#0000ff" stroke-width="1" fill="none"/>
<path d="M194.3,425.6H199.3M196.8,423.1V428.1" stroke="#0000ff" stroke-width="1" fill="none"/>
<path d="M204.0,426.0H209.0M206.5,423.5V428.5M204.7,424.3L208.2,427.8M204.7,427.8L208.2,424.3" stroke="#0000ff" stroke-width="1" fill="none"/>
<path d="M213.8,426.0H218.8M216.3,423.5V428.5" stroke="#0000ff" stroke-width="1" fill="none"/>
<path d="M222.0,425.3H227.0M224.5,422.8V427.8M222.7,423.5L226.2,427.0M222.7,427.0L226.2,423.5" stroke="#0000ff" stroke-width="1" fill="none"/>
<path d="M229.5,425.4H234.5M232.0,422.9V427.9M230.3,423.7L233.8,427.2M230.3,427.2L233.8,423.7" stroke="#0000ff" stroke-width="1" fill="none"/>
<path d="M238.9,425.8H243.9M241.4,423.3V428.3M239.7,424.0L243.2,427.5M239.7,427.5L243.2,424.0" stroke="#0000ff" stroke-width="1" fill="none"/>
<path d="M247.3,425.9H252.3M249.8,423.4V428.4M248.0,424.2L251.5,427.7M248.0,427.7L251.5,424.2" stroke="#0000ff" stroke-width="1" fill="none"/>
<path d="M255.9,425.6H261.5M258.7,422.8V428.4M256.8,423.6L260.7,427.5M256.8,427.5L260.7,423.6" stroke="#0000ff" stroke-width="1" fill="none"/>
<path d="M259.3,426.1H264.9M262.1,423.3V428.9M260.2,424.1L264.1,428.0M260.2,428.0L264.1,424.1" stroke="#0000ff" stroke-width="1" fill="none"/>
<path d="M261.4,425.9H267.0M264.2,423.1V428.7" stroke="#0000ff" stroke-width="1" fill="none"/>
<path d="M263.4,425.5H269.0M266.2,422.7V428.3" stroke="#0000ff" stroke-width="1" fill="none"/>
<path d="M266.6,425.1H272.2M269.4,422.3V427.9M267.4,423.2L271.3,427.1M267.4,427.1L271.3,423.2" stroke="#0000ff" stroke-width="1" fill="none"/>
<path d="M268.9,425.3H274.5M271.7,422.5V428.1" stroke="#0000ff" stroke-width="1" fill="none"/>
<path d="M272.4,426.0H278.0M275.2,423.2V428.8" stroke="#0000ff" stroke-width="1" fill="none"/>
<path d="M275.1,425.6H280.7M277.9,422.8V428.4M276.0,423.7L279.9,427.6M276.0,427.6L279.9,423.7" stroke="#0000ff" stroke-width="1" fill="none"/>
<path d="M278.7,425.8H284.3M281.5,423.0V428.6M279.5,423.9L283.4,427.8M279.5,427.8L283.4,423.9" stroke="#0000ff" stroke-width="1" fill="none"/>
<path d="M282.3,425.1H287.9M285.1,422.3V427.9" stroke="#0000ff" stroke-width="1" fill="none"/>
<path d="M286.2,425.4H291.8M289.0,422.6V428.2M287.0,423.5L290.9,427.4M287.0,427.4L290.9,423.5" stroke="#0000ff" stroke-width="1" fill="none"/>
<path d="M289.4,425.4H295.0M292.2,422.6V428.2" stroke="#0000ff" stroke-width="1" fill="none"/>
<path d="M293.2,425.4H298.8M296.0,422.6V428.2" stroke="#0000ff" stroke-width="1" fill="none"/>
<path d="M295.9,425.2H301.5M298.7,422.4V428.0M296.7,423.2L300.6,427.1M296.7,427.1L300.6,423.2" stroke="#0000ff" stroke-width="1" fill="none"/>
<path d="M298.2,426.1H303.8M301.0,423.3V428.9" stroke="#0000ff" stroke-width="1" fill="none"/>
<path d="M300.5,426.1H306.1M303.3,423.3V428.9M301.3,424.1L305.3,428.0M301.3,428.0L305.3,424.1" stroke="#0000ff" stroke-width="1" fill="none"/>
<path d="M303.6,425.3H309.2M306.4,422.5V428.1M304.4,423.4L308.3,427.3M304.4,427.3L308.3,423.4" stroke="#0000ff" stroke-width="1" fill="none"/>
<path d="M306.7,425.6H312.3M309.5,422.8V428.4" stroke="#0000ff" stroke-width="1" fill="none"/>
<path d="M309.6,426.0H315.2M312.4,423.2V428.8M310.4,424.1L314.4,428.0M310.4,428.0L314.4,424.1" stroke="#0000ff" stroke-width="1" fill="none"/>
<polyline points="45.0,427.0 55.6,426.6 70.9,426.2 87.7,425.3 103.0,424.0 116.1,421.9 128.7,419.1 140.9,416.2 153.0,413.5 164.2,411.3 174.6,409.3 186.0,407.3 200.0,405.0 217.9,402.3 238.6,399.2 259.9,396.3 280.0,393.7 298.6,391.7 316.8,390.0 334.0,388.5 350.0,387.2 365.2,386.0 379.6,385.0 392.0,384.2 401.3,383.7 406.3,383.7 407.9,384.1 407.8,384.7 408.0,385.0" fill="none" stroke="#ff0000" stroke-width="1.15" stroke-linejoin="round"/>
<polyline points="408.0,383.8 408.6,385.7 409.2,385.5 409.8,384.9 410.4,384.0 411.0,386.1 411.6,386.1 412.2,385.0 412.8,385.0 413.4,384.0 414.0,383.2 414.6,384.5 415.2,385.3 415.8,383.4 416.4,386.1 417.0,384.0 417.6,384.0 418.2,383.4 418.8,386.8 419.4,385.9 420.0,386.4 420.6,385.4 421.2,383.3 421.8,384.4 422.4,385.0 423.0,383.6 423.6,386.6 424.2,384.5 424.8,383.8 425.4,386.1 426.0,383.6 426.6,386.5 427.2,384.8 427.8,385.2 428.4,384.4 429.0,384.9 429.6,383.9 430.2,383.3 430.8,386.3 431.4,384.0 432.0,386.0 432.6,384.0 433.2,386.7 433.8,386.4 434.4,385.9 435.0,385.9 435.6,385.3 436.2,385.8 436.8,383.6 437.4,384.9 438.0,386.2 438.6,383.9 439.2,386.5 439.8,386.4 440.4,384.7 441.0,384.5 441.6,384.9 442.2,384.7 442.8,386.9 443.4,384.7 444.0,383.4 444.6,383.7 445.2,386.0 445.8,387.0 446.4,385.2 447.0,385.2 447.6,385.4 448.2,386.2 448.8,384.3 449.4,385.7 450.0,385.5 450.6,385.8 451.2,384.2 451.8,384.2 452.4,384.9 453.0,387.0 453.6,384.9 454.2,385.8 454.8,384.8 455.4,384.1 456.0,384.0 456.6,386.7 457.2,386.6 457.8,385.1 458.4,386.3 459.0,386.3 459.6,387.1 460.2,387.3 460.8,385.4 461.4,387.5 462.0,387.4 462.6,386.1 463.2,387.2 463.8,385.8 464.4,385.4 465.0,384.9 465.6,387.2 466.2,384.7 466.8,384.3 467.4,387.0 468.0,386.9 468.6,385.9 469.2,387.2 469.8,384.4 470.4,385.3 471.0,385.6 471.6,386.2 472.2,385.5 472.8,385.3 473.4,386.5 474.0,388.7 474.6,389.2 475.2,388.5 475.8,387.8 476.4,387.1 477.0,389.9 477.6,388.5 478.2,389.4 478.8,387.1 479.4,388.0 480.0,390.4 480.6,390.4" fill="none" stroke="#ff0000" stroke-width="1.3" stroke-linejoin="round"/>
<polyline points="462.0,389.4 462.6,387.0 463.2,386.7 463.8,389.7 464.4,387.3 465.0,387.2 465.6,388.8 466.2,388.0 466.8,389.7 467.4,387.8 468.0,390.0 468.6,388.2 469.2,389.1 469.8,390.1 470.4,389.4 471.0,390.2 471.6,389.6 472.2,387.7 472.8,390.3 473.4,389.5 474.0,388.7 474.6,388.4 475.2,390.4 475.8,389.7 476.4,390.8 477.0,390.4 477.6,391.0 478.2,389.9 478.8,390.4 479.4,390.2 480.0,389.2 480.6,391.3" fill="none" stroke="#ff0000" stroke-width="2" stroke-linejoin="round"/>
<polyline points="481.0,389.5 478.4,389.1 474.6,388.6 470.4,388.2 466.7,388.3 463.8,389.2 461.1,390.5 458.4,392.0 455.0,393.0 450.5,393.4 445.4,393.4 440.3,393.3 436.3,393.5 435.2,394.0 436.0,394.7 435.2,395.5 429.3,396.5 415.0,397.9 394.8,399.6 374.6,401.3 360.0,402.5 356.1,402.7 358.8,402.1 359.5,402.0 350.0,403.5 323.4,407.5 285.6,413.3 247.6,419.1 220.0,423.5 206.8,425.8 201.9,427.0 201.0,427.6 200.0,428.0" fill="none" stroke="#ff0000" stroke-width="1.15" stroke-linejoin="round"/>
<polyline points="33.0,437.0 37.9,436.2 45.1,435.1 52.9,433.9 60.0,433.0 66.2,432.4 72.1,431.9 77.8,431.6 83.0,431.5 87.5,431.6 91.4,431.8 95.3,432.2 100.0,433.0 105.6,434.1 111.8,435.5 118.4,437.1 125.0,439.0 131.7,441.1 138.7,443.5 145.8,446.1 153.0,449.0 159.9,451.9 166.6,455.0 174.0,458.5 183.3,462.7 194.9,467.9 208.2,473.7 222.4,480.1 236.7,486.7 251.6,493.9 267.2,501.6 282.4,509.2 296.0,516.0 307.5,521.7 317.6,526.8 326.9,531.5 336.0,536.0 345.2,540.4 354.2,544.5 362.6,548.4 370.0,552.0 375.9,555.3 380.8,558.2 385.2,560.9 390.0,563.3 395.9,565.5 402.2,567.4 408.0,568.9 412.0,570.0" fill="none" stroke="#ff0000" stroke-width="1.15" stroke-dasharray="3 1" stroke-linejoin="round"/>
<polyline points="410.0,568.0 410.5,568.4 411.0,569.4 411.5,570.4 412.0,568.8 412.5,568.9 413.0,569.3 413.5,571.0 414.0,569.3 414.5,571.2 415.0,571.1 415.5,569.6 416.0,570.9 416.5,570.8 417.0,570.8 417.5,572.6 418.0,570.0 418.5,569.9 419.0,572.8 419.5,571.3 420.0,570.8 420.5,571.3 421.0,571.5 421.5,573.4 422.0,571.2 422.5,571.4 423.0,572.6 423.5,572.6 424.0,573.9 424.5,573.7 425.0,572.3 425.5,572.0 426.0,574.0 426.5,574.5 427.0,571.8 427.5,574.0 428.0,574.5 428.5,574.0 429.0,572.8 429.5,574.6 430.0,574.5 430.5,573.0 431.0,574.5 431.5,573.3 432.0,572.9 432.5,573.9 433.0,574.0 433.5,574.3 434.0,575.1 434.5,575.8 435.0,576.3 435.5,576.5 436.0,576.6 436.5,576.1 437.0,574.8 437.5,574.5 438.0,575.9 438.5,575.8 439.0,576.3 439.5,574.7 440.0,575.1 440.5,577.4 441.0,576.5 441.5,576.9 442.0,575.2 442.5,576.2 443.0,577.9 443.5,577.2 444.0,578.4 444.5,576.1 445.0,577.0 445.5,578.1 446.0,577.2 446.5,578.3 447.0,577.7 447.5,576.5 448.0,576.6 448.5,579.3 449.0,576.8 449.5,577.2 450.0,577.7 450.5,578.9 451.0,579.5 451.5,578.5 452.0,578.6 452.5,579.6 453.0,578.2 453.5,578.6 454.0,579.4 454.5,579.6 455.0,577.9 455.5,578.2 456.0,578.4 456.5,580.3 457.0,580.3 457.5,581.3 458.0,580.8 458.5,579.3 459.0,581.0 459.5,581.7 460.0,579.9 460.5,579.0 461.0,580.2 461.5,580.1 462.0,579.9 462.5,579.6 463.0,579.9 463.5,582.3 464.0,579.9 464.5,581.7 465.0,580.6 465.5,580.7 466.0,582.7 466.5,581.2 467.0,581.0 467.5,581.9 468.0,582.7 468.5,582.3 469.0,583.4 469.5,582.2 470.0,582.7 470.5,583.3 471.0,582.7 471.5,583.6 472.0,582.9 472.5,582.0 473.0,582.1 473.5,584.2 474.0,584.2 474.5,584.9 475.0,584.3 475.5,584.0 476.0,582.9 476.5,585.1 477.0,583.0 477.5,584.0 478.0,583.3 478.5,584.1 479.0,584.0 479.5,584.4 480.0,585.4 480.5,585.0 481.0,584.2" fill="none" stroke="#ff0000" stroke-width="1.5" stroke-linejoin="round"/>
<polyline points="90.0,430.0 92.0,430.6 94.8,431.5 98.5,432.4 103.0,433.0 108.9,433.2 115.9,433.1 123.2,433.0 130.0,433.3 135.2,433.9 139.6,434.7 145.0,435.8 153.0,437.5 165.3,439.8 180.4,442.7 196.1,445.9 210.0,449.3 221.2,452.9 231.1,456.9 240.4,461.0 250.0,465.3 259.9,469.7 269.6,474.2 279.6,479.0 290.0,484.0 301.4,489.6 313.4,495.5 325.2,501.5 336.0,507.0 345.7,512.0 354.6,516.7 362.8,521.1 370.0,525.0 375.6,528.2 379.9,530.7 384.3,533.3 390.0,536.7 398.4,541.5 408.3,547.3 417.9,552.9 425.0,557.0 428.7,559.3 430.2,560.3 430.8,560.7 431.7,561.2 433.0,561.6 434.2,561.6 435.4,561.7 437.0,562.3 439.2,563.7 441.8,565.6 444.5,567.5 446.7,569.0 448.3,569.8 449.5,570.2 450.6,570.5 452.0,570.8 453.6,571.0 455.2,571.0 457.2,571.4 460.0,572.5 464.2,575.0 469.5,578.4 474.5,581.7 478.0,584.0" fill="none" stroke="#ff0000" stroke-width="1.15" stroke-dasharray="3 1 1 1" stroke-linejoin="round"/>
<polyline points="33.0,428.0 35.2,427.6 38.2,427.0 42.7,426.2 49.0,425.0 57.7,423.4 68.2,421.5 80.2,419.3 93.0,417.0 107.2,414.3 122.8,411.2 138.5,408.3 153.0,406.0 164.9,404.5 175.2,403.6 186.2,402.9 200.0,402.3 217.6,401.6 237.8,400.9 259.1,400.4 280.0,400.3 300.9,400.6 322.2,401.3 342.9,402.3 361.7,403.5 378.1,405.0 392.7,406.9 406.4,408.8 420.0,410.5 434.8,411.9 449.9,413.3 463.2,414.4 472.5,415.2" fill="none" stroke="#ff0000" stroke-width="1.15" stroke-dasharray="1 1" stroke-linejoin="round"/>
<polyline points="472.5,415.2 463.5,414.7 450.6,414.0 435.6,413.3 420.0,412.8 403.5,412.5 385.5,412.3 367.2,412.2 350.0,412.4 333.8,412.9 318.1,413.7 303.4,414.5 290.0,415.3 278.6,415.9 268.8,416.5 259.5,417.1 250.0,418.0 239.1,419.4 227.5,421.2 217.2,422.8 210.0,424.0" fill="none" stroke="#ff0000" stroke-width="1.15" stroke-dasharray="1 1" stroke-linejoin="round"/>
<polyline points="184.0,428.5 297.0,428.5" fill="none" stroke="#ff0000" stroke-width="2" stroke-linejoin="round"/>
<path d="M181.5,428.3H186.5M184.0,425.8V430.8" stroke="#ff0000" stroke-width="1" fill="none"/>
<path d="M187.0,428.4H192.0M189.5,425.9V430.9M187.8,426.7L191.3,430.2M187.8,430.2L191.3,426.7" stroke="#ff0000" stroke-width="1" fill="none"/>
<path d="M194.5,427.6H199.5M197.0,425.1V430.1M195.3,425.9L198.8,429.4M195.3,429.4L198.8,425.9" stroke="#ff0000" stroke-width="1" fill="none"/>
<path d="M201.3,428.3H206.3M203.8,425.8V430.8" stroke="#ff0000" stroke-width="1" fill="none"/>
<path d="M207.5,428.5H212.5M210.0,426.0V431.0" stroke="#ff0000" stroke-width="1" fill="none"/>
<path d="M215.9,428.0H220.9M218.4,425.5V430.5M216.6,426.2L220.1,429.7M216.6,429.7L220.1,426.2" stroke="#ff0000" stroke-width="1" fill="none"/>
<path d="M222.8,428.0H227.8M225.3,425.5V430.5M223.6,426.2L227.1,429.7M223.6,429.7L227.1,426.2" stroke="#ff0000" stroke-width="1" fill="none"/>
<path d="M229.0,427.6H234.0M231.5,425.1V430.1" stroke="#ff0000" stroke-width="1" fill="none"/>
<path d="M235.5,428.5H240.5M238.0,426.0V431.0M236.2,426.7L239.7,430.2M236.2,430.2L239.7,426.7" stroke="#ff0000" stroke-width="1" fill="none"/>
<path d="M243.0,427.8H248.0M245.5,425.3V430.3" stroke="#ff0000" stroke-width="1" fill="none"/>
<path d="M248.4,428.3H253.4M250.9,425.8V430.8" stroke="#ff0000" stroke-width="1" fill="none"/>
<path d="M256.8,428.3H261.8M259.3,425.8V430.8" stroke="#ff0000" stroke-width="1" fill="none"/>
<path d="M264.9,428.2H269.9M267.4,425.7V430.7M265.7,426.4L269.2,429.9M265.7,429.9L269.2,426.4" stroke="#ff0000" stroke-width="1" fill="none"/>
<path d="M273.0,428.2H278.0M275.5,425.7V430.7" stroke="#ff0000" stroke-width="1" fill="none"/>
<path d="M279.1,428.3H284.1M281.6,425.8V430.8" stroke="#ff0000" stroke-width="1" fill="none"/>
<path d="M286.9,428.4H291.9M289.4,425.9V430.9" stroke="#ff0000" stroke-width="1" fill="none"/>
<path d="M294.5,427.5H299.5M297.0,425.0V430.0" stroke="#ff0000" stroke-width="1" fill="none"/>
<path d="M33,425 H150 L186,426.3 V429.8 L150,431 H33 Q30,431 30,428 Q30,425 33,425 Z" fill="#ff0000"/>
<polyline points="40.0,432.0 180.0,432.0" fill="none" stroke="#ff0000" stroke-width="1" stroke-dasharray="1 1" stroke-opacity="0.6" stroke-linejoin="round"/>
<path d="M300,425 H380 L421,426 Q425,426 425,428 Q425,430 421,430 L380,430.5 H300 Z" fill="#ff0000"/>
<line x1="33" y1="341.5" x2="488" y2="341.5" stroke="#666"/>
<line x1="33.5" y1="341" x2="33.5" y2="603" stroke="#666"/>
<line x1="33" y1="602.5" x2="488" y2="602.5" stroke="#707070"/>
<rect x="487" y="341" width="1" height="262" fill="#888"/>
<text x="3" y="335" class="lt">(b)</text>
<text x="33" y="338" class="tk">x 10</text><text x="49" y="331.5" class="tk" style="font-size:6.5px">-3</text>
<text x="40.5" y="351" class="tk" style="font-size:9px">Dwell-time = 100s</text>
<text x="259" y="620" class="sl" text-anchor="middle">Deflection [mm]</text>
<text transform="translate(10.5,471.5) rotate(-90)" class="sl" style="font-size:6.8px" text-anchor="middle">Sigma X Y [MPa]</text>
<rect x="500" y="21" width="78" height="174" fill="#fff"/>
<polyline points="504.0,28.5 525.0,28.5" fill="none" stroke="#0000ff" stroke-width="1" stroke-opacity="1"/>
<text x="527" y="32.0" class="lg">Young 6966</text>
<polyline points="504.0,40.5 525.0,40.5" fill="none" stroke="#0000ff" stroke-width="1" stroke-dasharray="3 1" stroke-opacity="1"/>
<text x="527" y="44.0" class="lg">Young 5832</text>
<polyline points="504.0,52.5 525.0,52.5" fill="none" stroke="#0000ff" stroke-width="1" stroke-dasharray="3 1 1 1" stroke-opacity="1"/>
<text x="527" y="56.0" class="lg">Young 4688</text>
<polyline points="504.0,64.5 525.0,64.5" fill="none" stroke="#0000ff" stroke-width="1" stroke-dasharray="1 1" stroke-opacity="1"/>
<text x="527" y="68.0" class="lg">Young 4116</text>
<path d="M512.0,77.5H517.0M514.5,75.0V80.0M513.375,76.375L515.625,78.625M513.375,78.625L515.625,76.375" stroke="#0000ff" stroke-width="0.9" fill="none"/>
<text x="527" y="81.0" class="lg">Young 3515</text>
<path d="M512.0,89.5H517.0M514.5,87.0V92.0" stroke="#0000ff" stroke-width="0.9" fill="none" stroke-opacity="0.85"/>
<text x="527" y="93.0" class="lg">Young 2920</text>
<circle cx="514.5" cy="101.5" r="2" stroke="#0000ff" stroke-width="0.9" fill="none" stroke-opacity="0.85"/>
<text x="527" y="105.0" class="lg">Young 4251</text>
<polyline points="504.0,113.5 525.0,113.5" fill="none" stroke="#ff0000" stroke-width="1" stroke-opacity="1"/>
<text x="527" y="117.0" class="lg">Old 6966</text>
<polyline points="504.0,125.5 525.0,125.5" fill="none" stroke="#ff0000" stroke-width="1" stroke-dasharray="3 1" stroke-opacity="1"/>
<text x="527" y="129.0" class="lg">Old 5832</text>
<polyline points="504.0,138.5 525.0,138.5" fill="none" stroke="#ff0000" stroke-width="1" stroke-dasharray="3 1 1 1" stroke-opacity="1"/>
<text x="527" y="142.0" class="lg">Old 4688</text>
<polyline points="504.0,150.5 525.0,150.5" fill="none" stroke="#ff0000" stroke-width="1" stroke-dasharray="1 1" stroke-opacity="1"/>
<text x="527" y="154.0" class="lg">Old 4116</text>
<path d="M512.0,162.5H517.0M514.5,160.0V165.0M513.375,161.375L515.625,163.625M513.375,163.625L515.625,161.375" stroke="#ff0000" stroke-width="0.9" fill="none"/>
<text x="527" y="166.0" class="lg">Old 3515</text>
<path d="M512.0,174.5H517.0M514.5,172.0V177.0" stroke="#ff0000" stroke-width="0.9" fill="none" stroke-opacity="0.85"/>
<text x="527" y="178.0" class="lg">Old 2920</text>
<circle cx="514.5" cy="187.5" r="2" stroke="#ff0000" stroke-width="0.9" fill="none" stroke-opacity="0.85"/>
<text x="527" y="191.0" class="lg">Old 4251</text>
<line x1="500" y1="21.5" x2="578" y2="21.5" stroke="#666"/>
<line x1="500.5" y1="21" x2="500.5" y2="195" stroke="#666"/>
<line x1="500" y1="194.5" x2="578" y2="194.5" stroke="#333"/>
<line x1="577.5" y1="21" x2="577.5" y2="195" stroke="#333"/>
<rect x="494" y="341" width="77" height="172" fill="#fff"/>
<polyline points="498.0,348.5 518.5,348.5" fill="none" stroke="#0000ff" stroke-width="1" stroke-opacity="1"/>
<text x="520.5" y="352.0" class="lg">Young 6966</text>
<polyline points="498.0,360.5 518.5,360.5" fill="none" stroke="#0000ff" stroke-width="1" stroke-dasharray="3 1" stroke-opacity="1"/>
<text x="520.5" y="364.0" class="lg">Young 5832</text>
<polyline points="498.0,372.5 518.5,372.5" fill="none" stroke="#0000ff" stroke-width="1" stroke-dasharray="3 1 1 1" stroke-opacity="1"/>
<text x="520.5" y="376.0" class="lg">Young 4688</text>
<polyline points="498.0,384.5 518.5,384.5" fill="none" stroke="#0000ff" stroke-width="1" stroke-dasharray="1 1" stroke-opacity="1"/>
<text x="520.5" y="388.0" class="lg">Young 4116</text>
<path d="M506.0,396.5H511.0M508.5,394.0V399.0M507.375,395.375L509.625,397.625M507.375,397.625L509.625,395.375" stroke="#0000ff" stroke-width="0.9" fill="none"/>
<text x="520.5" y="400.0" class="lg">Young 3515</text>
<path d="M506.0,408.5H511.0M508.5,406.0V411.0" stroke="#0000ff" stroke-width="0.9" fill="none" stroke-opacity="0.85"/>
<text x="520.5" y="412.0" class="lg">Young 2920</text>
<circle cx="508.5" cy="420.5" r="2" stroke="#0000ff" stroke-width="0.9" fill="none" stroke-opacity="0.85"/>
<text x="520.5" y="424.0" class="lg">Young 4251</text>
<polyline points="498.0,433.5 518.5,433.5" fill="none" stroke="#ff0000" stroke-width="1" stroke-opacity="1"/>
<text x="520.5" y="437.0" class="lg">Old 6966</text>
<polyline points="498.0,445.5 518.5,445.5" fill="none" stroke="#ff0000" stroke-width="1" stroke-dasharray="3 1" stroke-opacity="1"/>
<text x="520.5" y="449.0" class="lg">Old 5832</text>
<polyline points="498.0,457.5 518.5,457.5" fill="none" stroke="#ff0000" stroke-width="1" stroke-dasharray="3 1 1 1" stroke-opacity="1"/>
<text x="520.5" y="461.0" class="lg">Old 4688</text>
<polyline points="498.0,469.5 518.5,469.5" fill="none" stroke="#ff0000" stroke-width="1" stroke-dasharray="1 1" stroke-opacity="1"/>
<text x="520.5" y="473.0" class="lg">Old 4116</text>
<path d="M506.0,481.5H511.0M508.5,479.0V484.0M507.375,480.375L509.625,482.625M507.375,482.625L509.625,480.375" stroke="#ff0000" stroke-width="0.9" fill="none"/>
<text x="520.5" y="485.0" class="lg">Old 3515</text>
<path d="M506.0,493.5H511.0M508.5,491.0V496.0" stroke="#ff0000" stroke-width="0.9" fill="none" stroke-opacity="0.85"/>
<text x="520.5" y="497.0" class="lg">Old 2920</text>
<circle cx="508.5" cy="505.5" r="2" stroke="#ff0000" stroke-width="0.9" fill="none" stroke-opacity="0.85"/>
<text x="520.5" y="509.0" class="lg">Old 4251</text>
<line x1="494" y1="341.5" x2="571" y2="341.5" stroke="#111"/>
<line x1="494.5" y1="341" x2="494.5" y2="513" stroke="#111"/>
<line x1="494" y1="512.5" x2="571" y2="512.5" stroke="#111"/>
<line x1="570.5" y1="341" x2="570.5" y2="513" stroke="#777"/>
</svg></body></html>
